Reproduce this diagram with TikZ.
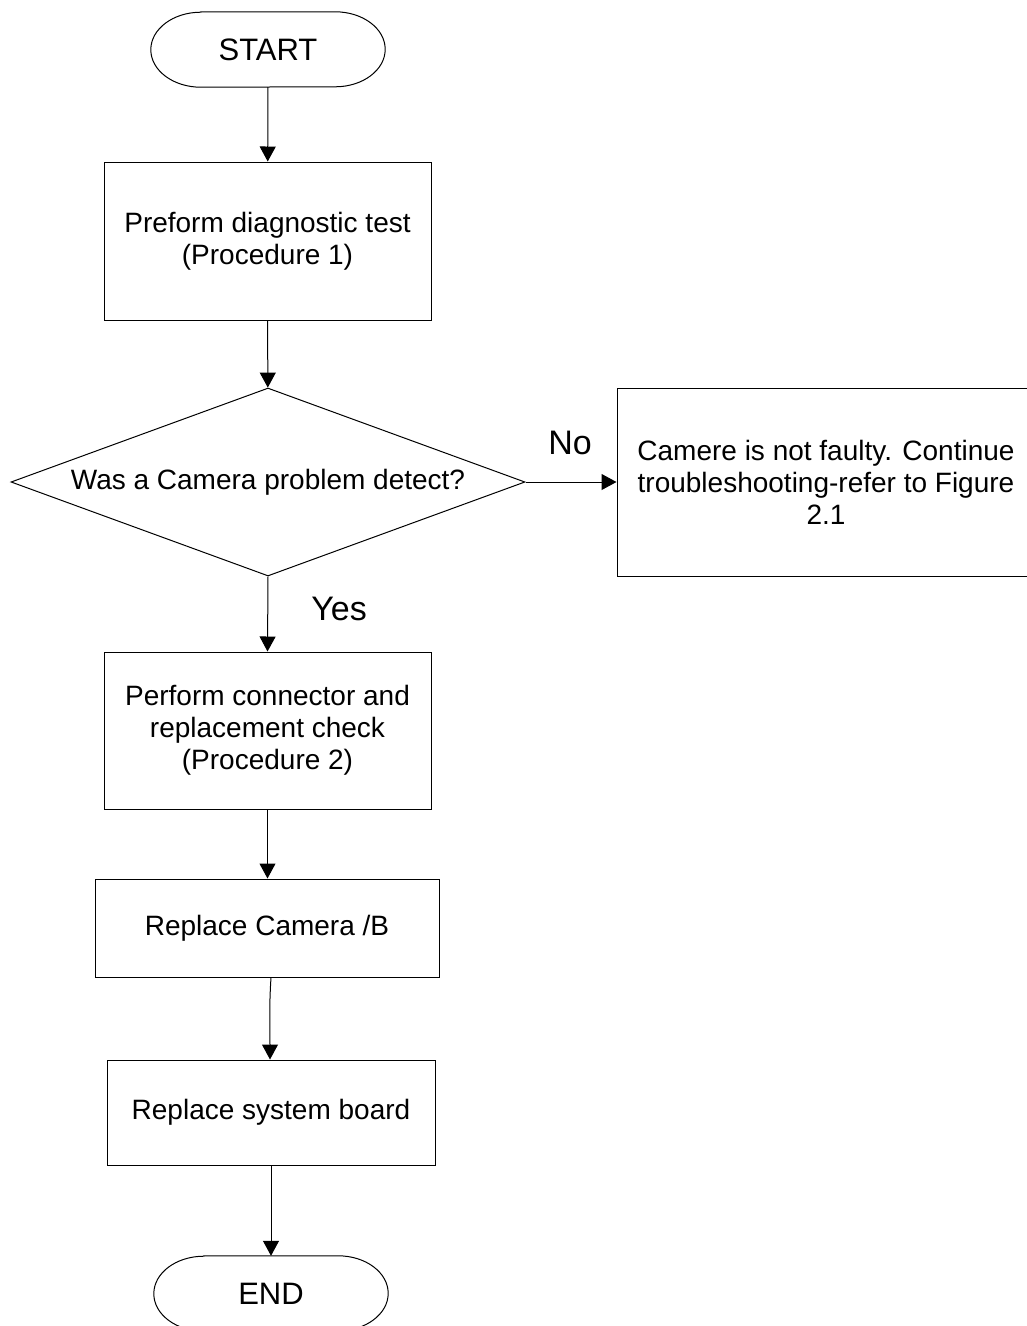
\documentclass[tikz,border=0pt]{standalone}
\usepackage{fontspec}
\setmainfont{Liberation Sans}
\usetikzlibrary{arrows.meta,shapes.geometric}
\begin{document}
\begin{tikzpicture}[x=1pt,y=-1pt,
  box/.style={draw, line width=1pt, inner sep=0pt, align=center, font=\fontsize{28}{32}\selectfont},
  term/.style={inner sep=0pt, minimum width=234pt, minimum height=75pt, font=\fontsize{31}{34}\selectfont},
  termline/.style={line width=1pt},
  arr/.style={line width=1pt, -{Triangle[length=15pt,width=16pt]}},
  lbl/.style={font=\fontsize{34}{38}\selectfont}]
\useasboundingbox (0,0) rectangle (1027,1326);
\clip (0,0) rectangle (1027,1326);
% START
\node[term] (start) at (268,49.5) {START};
\draw[termline] ([xshift=50pt]start.north west) -- ([xshift=-50pt]start.north east)
  arc[start angle=90, end angle=-90, x radius=50pt, y radius=37.5pt]
  -- ([xshift=50pt]start.south west)
  arc[start angle=270, end angle=90, x radius=50pt, y radius=37.5pt] -- cycle;
% boxes
\node[box, minimum width=327pt, minimum height=158pt] (p1) at (267.5,241) {Preform diagnostic test\\(Procedure 1)};
\node[draw, diamond, aspect=2.73, minimum width=514pt, minimum height=188pt, inner sep=0pt, line width=1pt] (q) at (268,482) {};
\node[font=\fontsize{28}{32}\selectfont] (qt) at (q.center) {Was a Camera problem detect?};
\node[box, minimum width=418pt, minimum height=188pt] (nf) at (826,482) {Camere is not faulty. Continue\\troubleshooting-refer to Figure\\2.1};
\node[box, minimum width=327pt, minimum height=157pt] (p2) at (267.5,730.5) {Perform connector and\\replacement check\\(Procedure 2)};
\node[box, minimum width=344pt, minimum height=98pt] (p3) at (267,928) {Replace Camera /B};
\node[box, minimum width=328pt, minimum height=105pt] (p4) at (271,1112.5) {Replace system board};
% END
\node[term] (end) at (271,1293.5) {END};
\draw[termline] ([xshift=50pt]end.north west) -- ([xshift=-50pt]end.north east)
  arc[start angle=90, end angle=-90, x radius=50pt, y radius=37.5pt]
  -- ([xshift=50pt]end.south west)
  arc[start angle=270, end angle=90, x radius=50pt, y radius=37.5pt] -- cycle;
% connectors
\draw[arr] (start) -- (p1);
\draw[arr] (p1) -- (q);
\draw[arr] (q.east) -- (nf.west);
\node[lbl] (no) at (570,443) {No};
\draw[arr] (q.south) -- (p2.north);
\node[lbl] (yes) at (339,609) {Yes};
\draw[arr] (p2) -- (p2.south |- p3.north);
\draw[arr] (p3.south -| p4.north) .. controls +(-2,30) and +(0,-30) .. ([xshift=-1pt]p4.north);
\draw[arr] (p4) -- (end);
\end{tikzpicture}
\end{document}
